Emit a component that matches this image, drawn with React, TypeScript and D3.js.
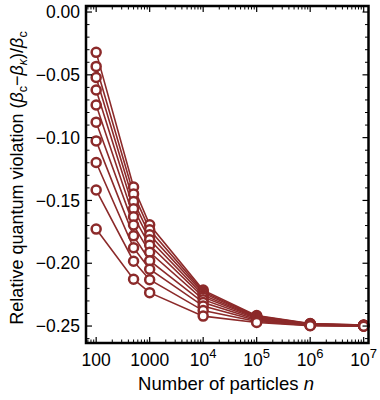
import React from "react";
import { scaleLog, scaleLinear, line } from "d3";

// particle counts on the x axis
const particles = [100, 500, 1000, 1e4, 1e5, 1e6, 1e7];

// relative violation for each curve, one array per particle count (top curve first)
const at100 = [-0.0321, -0.0433, -0.0521, -0.0621, -0.074, -0.0877, -0.1026, -0.1198, -0.1417, -0.1728];
const at500 = [-0.1393, -0.1448, -0.1508, -0.1566, -0.1629, -0.1696, -0.1782, -0.1877, -0.1984, -0.2127];
const at1000 = [-0.1694, -0.1734, -0.1774, -0.1813, -0.1857, -0.1913, -0.198, -0.2048, -0.2131, -0.2234];
const at1e4 = [-0.2214, -0.2226, -0.2238, -0.2254, -0.227, -0.229, -0.2313, -0.2341, -0.2377, -0.2421];
const at1e5 = [-0.2417, -0.2421, -0.2425, -0.2429, -0.2433, -0.244, -0.2448, -0.2456, -0.2464, -0.2472];
const at1e6 = [-0.248, -0.2482, -0.2484, -0.2486, -0.2488, -0.249, -0.2492, -0.2494, -0.2496, -0.2498];
const at1e7 = [-0.2492, -0.2493, -0.2494, -0.2495, -0.2496, -0.2497, -0.2498, -0.2499, -0.25, -0.2501];

const yMajor = [0, -0.05, -0.1, -0.15, -0.2, -0.25];
const yLabels = ["0.00", "\u22120.05", "\u22120.10", "\u22120.15", "\u22120.20", "\u22120.25"];
const xMajor = [100, 1000, 1e4, 1e5, 1e6, 1e7];
const xLabels: [string, string][] = [["100", ""], ["1000", ""], ["10", "4"], ["10", "5"], ["10", "6"], ["10", "7"]];

const columns = [at100, at500, at1000, at1e4, at1e5, at1e6, at1e7];
const series = at100.map((_, i) => columns.map((col, j) => ({ n: particles[j], v: col[i] })));

const RED = "#8c2a2a";
const FONT = "'Liberation Sans', Arial, sans-serif";

export default function App() {
  const left = 86, right = 368.5, top = 6, bottom = 343;
  const x = scaleLog().domain([Math.pow(10, 1.81), Math.pow(10, 7.09)]).range([left, right]);
  const y = scaleLinear().domain([-0.2635, 0.0048]).range([bottom, top]);

  const path = line<{ n: number; v: number }>()
    .x(d => x(d.n))
    .y(d => y(d.v));

  // minor ticks
  const yMinor: number[] = [];
  for (let k = 0; k <= 26; k++) {
    const v = -k / 100;
    if (k % 5 !== 0 && v >= -0.2635) yMinor.push(v);
  }
  const xMinor: number[] = [];
  for (let e = 1; e <= 7; e++) {
    for (let m = 2; m <= 9; m++) {
      const v = m * Math.pow(10, e);
      if (v >= x.domain()[0] && v <= x.domain()[1]) xMinor.push(v);
    }
  }

  return (
    <svg width={380} height={400} style={{ position: "absolute", left: 0, top: 0, background: "#fff" }}>
      {/* series lines */}
      {series.map((s, i) => (
        <path key={"l" + i} d={path(s) || ""} fill="none" stroke={RED} strokeWidth={1.6} />
      ))}
      {series.map((s, i) =>
        s.map((d, j) => (
          <circle key={"c" + i + "-" + j} cx={x(d.n)} cy={y(d.v)} r={4.5} fill="#fff" stroke={RED} strokeWidth={2.5} />
        ))
      )}

      {/* ticks */}
      {yMajor.map(v => (
        <g key={"ym" + v}>
          <line x1={left} x2={left + 6} y1={y(v)} y2={y(v)} stroke="#000" strokeWidth={1.2} />
          <line x1={right} x2={right - 6} y1={y(v)} y2={y(v)} stroke="#000" strokeWidth={1.2} />
        </g>
      ))}
      {yMinor.map(v => (
        <g key={"yn" + v}>
          <line x1={left} x2={left + 3.5} y1={y(v)} y2={y(v)} stroke="#000" strokeWidth={1} />
          <line x1={right} x2={right - 3.5} y1={y(v)} y2={y(v)} stroke="#000" strokeWidth={1} />
        </g>
      ))}
      {xMajor.map(v => (
        <g key={"xm" + v}>
          <line x1={x(v)} x2={x(v)} y1={bottom} y2={bottom - 6} stroke="#000" strokeWidth={1.2} />
          <line x1={x(v)} x2={x(v)} y1={top} y2={top + 6} stroke="#000" strokeWidth={1.2} />
        </g>
      ))}
      {xMinor.map(v => (
        <g key={"xn" + v}>
          <line x1={x(v)} x2={x(v)} y1={bottom} y2={bottom - 3.5} stroke="#000" strokeWidth={1} />
          <line x1={x(v)} x2={x(v)} y1={top} y2={top + 3.5} stroke="#000" strokeWidth={1} />
        </g>
      ))}

      {/* frame */}
      <rect x={left} y={top} width={right - left} height={bottom - top} fill="none" stroke="#000" strokeWidth={2.5} />

      {/* tick labels */}
      {yMajor.map((v, i) => (
        <text key={"yl" + v} x={80} y={y(v)} dy="0.35em" textAnchor="end" fontFamily={FONT} fontSize={17.5}>
          {yLabels[i]}
        </text>
      ))}
      {xMajor.map((v, i) => (
        <text key={"xl" + v} x={x(v)} y={366} textAnchor="middle" fontFamily={FONT} fontSize={17.5}>
          {xLabels[i][0]}
          {xLabels[i][1] && (
            <tspan fontSize={13} dy={-8}>{xLabels[i][1]}</tspan>
          )}
        </text>
      ))}

      {/* axis titles */}
      <text x={226} y={390} textAnchor="middle" fontFamily={FONT} fontSize={18.5}>
        Number of particles <tspan fontStyle="italic">n</tspan>
      </text>
      <text transform="translate(23,178) rotate(-90)" textAnchor="middle" fontFamily={FONT} fontSize={18}>
        Relative quantum violation (
        <tspan fontStyle="italic">β</tspan>
        <tspan fontSize={12.5} dy={4}>c</tspan>
        <tspan dy={-4}>{"\u2212"}</tspan>
        <tspan fontStyle="italic">β</tspan>
        <tspan fontSize={12.5} fontStyle="italic" dy={4}>κ</tspan>
        <tspan dy={-4}>)/</tspan>
        <tspan fontStyle="italic">β</tspan>
        <tspan fontSize={12.5} dy={4}>c</tspan>
      </text>
    </svg>
  );
}
